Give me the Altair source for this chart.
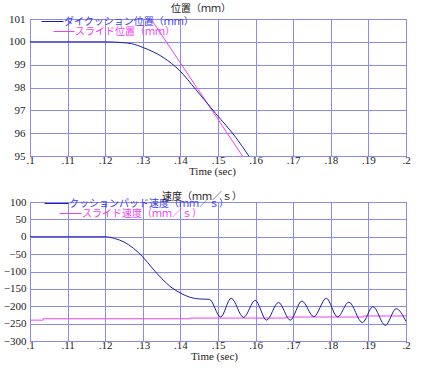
import altair as alt
import pandas as pd

# ---- data ----
pos_blue_t = [0.100, 0.120, 0.1225, 0.1250, 0.1270, 0.1301, 0.1354, 0.1398, 0.1441, 0.1494, 0.1547, 0.1582]
pos_blue_v = [100.0, 100.0, 99.99, 99.96, 99.92, 99.75, 99.32, 98.74, 97.91, 96.86, 95.82, 95.0]
pos_mag_t = [0.1322, 0.1565]
pos_mag_v = [101.0, 95.0]

vel_blue_t = [0.100, 0.120, 0.1225, 0.1250, 0.1275, 0.1300, 0.1325, 0.1350, 0.1375, 0.1400, 0.1425,
              0.1450, 0.1477, 0.1507, 0.1535, 0.1568, 0.1599, 0.1629, 0.1661, 0.1692, 0.1723,
              0.1755, 0.1788, 0.1818, 0.1848, 0.1884, 0.1912, 0.1945, 0.1974, 0.2000]
vel_blue_v = [0, 0, -5, -15, -33, -58, -90, -120, -145, -162, -174,
              -179, -180, -231, -177, -232, -183, -240, -189, -240, -185,
              -230, -177, -231, -188, -247, -201, -255, -207, -244]
vel_mag_t = [0.100, 0.1035, 0.1424, 0.1681, 0.1887, 0.2000]
vel_mag_v = [-240, -236, -234, -231, -228, -228]

x_ticks = [0.10, 0.11, 0.12, 0.13, 0.14, 0.15, 0.16, 0.17, 0.18, 0.19, 0.20]
pos_ticks = [95, 96, 97, 98, 99, 100, 101]
vel_ticks = [-300, -250, -200, -150, -100, -50, 0, 50, 100]

pos_title = "位置（ｍｍ）"
vel_title = "速度（ｍｍ／ｓ）"
pos_names = ["ダイクッション位置（ｍｍ）", "スライド位置（ｍｍ）"]
vel_names = ["クッションパッド速度（ｍｍ／ｓ）", "スライド速度（ｍｍ／ｓ）"]
x_title = "Time (sec)"

BLUE = "#1e1ea8"
BLUE_TXT = "#3a3af0"
MAG = "#f040f0"
GRID = "#8a8af0"
NUM_FONT = "Liberation Serif"
JP_FONT = "Noto Sans CJK JP"


def series(t, v, name):
    return pd.DataFrame({"t": t, "v": v, "name": name})


def xaxis(title_x):
    return alt.Axis(values=x_ticks, labelExpr="substring(format(datum.value, '.2~f'), 1)",
                    title=x_title, titleFont=NUM_FONT, titleFontSize=11, titleFontWeight="normal",
                    titleColor="#222", titlePadding=0, titleX=title_x,
                    labelFont=NUM_FONT, labelFontSize=11, labelColor="#222", labelPadding=-2,
                    ticks=False, tickSize=0, domain=False, grid=True, gridColor=GRID,
                    gridWidth=1, gridOpacity=1, labelFlush=False, labelOverlap=False)


def yaxis(vals, extent, pad):
    return alt.Axis(values=vals, title=None, labelFont=NUM_FONT, labelFontSize=11,
                    labelColor="#222", labelPadding=pad, ticks=False, tickSize=0, domain=False,
                    grid=True, gridColor=GRID, gridWidth=1, gridOpacity=1,
                    minExtent=extent, maxExtent=extent, labelOverlap=False)


def legend(x, y, color, size):
    return alt.Legend(orient="none", legendX=x, legendY=y, title=None, symbolType="stroke",
                      symbolSize=size, symbolStrokeWidth=1, labelFont=JP_FONT, labelFontSize=10,
                      labelColor=color, labelOffset=0, labelLimit=400, padding=0)


def panel(blue_df, mag_df, names, xdom, ydom, yvals, w, h, extent, pad, title, title_dx,
          title_x, title_off, legpos):
    x_enc = alt.X("t:Q", scale=alt.Scale(domain=xdom, nice=False, zero=False), axis=xaxis(title_x))
    y_enc = alt.Y("v:Q", scale=alt.Scale(domain=ydom, nice=False, zero=False),
                  axis=yaxis(yvals, extent, pad))
    blue = alt.Chart(blue_df).mark_line(strokeWidth=1, interpolate="monotone", clip=True).encode(
        x=x_enc, y=y_enc,
        color=alt.Color("name:N", scale=alt.Scale(domain=[names[0]], range=[BLUE]),
                        legend=legend(legpos[0][0], legpos[0][1], BLUE_TXT, legpos[0][2])))
    mag_interp = "step-after" if len(mag_df) > 2 else "linear"
    mag = alt.Chart(mag_df).mark_line(strokeWidth=1, interpolate=mag_interp, clip=True).encode(
        x=x_enc, y=y_enc,
        color=alt.Color("name:N", scale=alt.Scale(domain=[names[1]], range=[MAG]),
                        legend=legend(legpos[1][0], legpos[1][1], MAG, legpos[1][2])))
    return alt.layer(mag, blue).resolve_scale(color="independent").properties(
        width=w, height=h,
        title=alt.TitleParams(title, font=JP_FONT, fontSize=10, fontWeight="normal",
                              color="#222", anchor="middle", dx=title_dx, offset=title_off))


# legend entries: (x offset, y offset of legend top, stroke symbol size)
top = panel(series(pos_blue_t, pos_blue_v, pos_names[0]),
            series(pos_mag_t, pos_mag_v, pos_names[1]),
            pos_names, [0.1, 0.2], [95, 101], pos_ticks, 376, 137, 27, 5,
            pos_title, -17, 182, -4, [(11, -9, 484), (23, 1.5, 441)])
bottom = panel(series(vel_blue_t, vel_blue_v, vel_names[0]),
               series(vel_mag_t, vel_mag_v, vel_names[1]),
               vel_names, [0.1, 0.2], [-300, 100], vel_ticks, 376, 139, 27, 4,
               vel_title, -16, 184, -11, [(14, -11, 576), (29, 0, 484)])

chart = alt.vconcat(top, bottom, spacing=13, center=False).properties(
    padding={"left": 2, "top": 3, "right": 5, "bottom": 2}
).configure(
    font=NUM_FONT
).configure_view(
    stroke="#333", strokeWidth=1
)

chart.save("out.html", embed_options={"renderer": "svg", "actions": False})
